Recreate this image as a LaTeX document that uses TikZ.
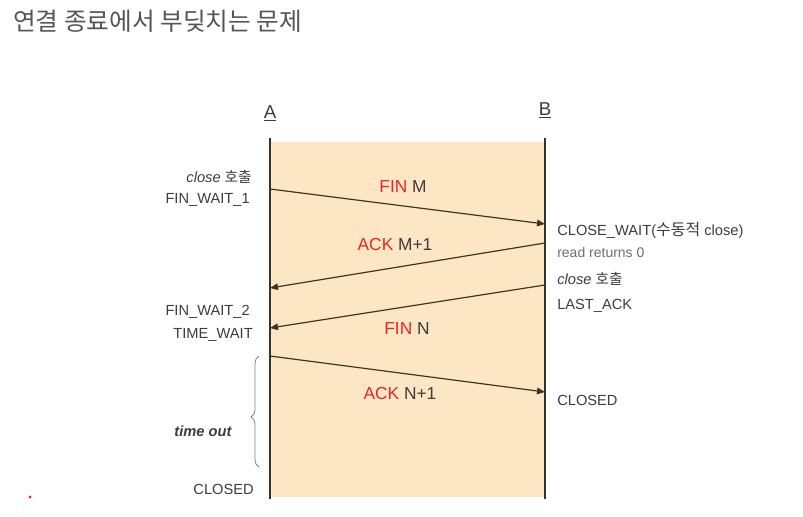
\documentclass[tikz,border=0pt]{standalone}
\usepackage{fontspec}
\setmainfont{Liberation Sans}
\newfontfamily\kr{Noto Sans CJK KR}
\usetikzlibrary{arrows.meta,decorations.pathreplacing}
\definecolor{peach}{RGB}{253,230,196}
\definecolor{txt}{RGB}{60,60,60}
\definecolor{lighttxt}{RGB}{110,110,110}
\definecolor{msgred}{RGB}{228,40,40}
\definecolor{arrowcol}{RGB}{65,52,35}
\definecolor{titlegray}{RGB}{85,85,85}
\tikzset{
  lbl/.style={text=txt, font=\fontsize{11}{13}\selectfont, inner sep=0pt},
  lleft/.style={lbl, anchor=east},
  lright/.style={lbl, anchor=west},
  msg/.style={text=txt, font=\fontsize{13}{15}\selectfont, inner sep=0pt},
  msgline/.style={draw=arrowcol, line width=0.9pt, -{Triangle[length=6pt,width=5pt]}},
  lifeline/.style={draw=black!80, line width=1.5pt},
}
\begin{document}
\begin{tikzpicture}[x=0.75pt,y=-0.75pt]
\useasboundingbox (0,0) rectangle (803,517);
% title
\node[anchor=west, inner sep=0pt, text=titlegray, font=\kr\fontsize{18.5}{22}\selectfont] (title) at (13,21) {연결 종료에서 부딪치는 문제};
% background
\fill[peach] (270,142) rectangle (545,497);
% lifelines
\coordinate (Atop) at (270,138);
\coordinate (Abot) at (270,499);
\coordinate (Btop) at (545,138);
\coordinate (Bbot) at (545,499);
\draw[lifeline] (Atop) -- (Abot);
\draw[lifeline] (Btop) -- (Bbot);
\node[text=txt, font=\fontsize{14}{16}\selectfont, inner sep=0pt] (A) at (270,113) {\underline{A}};
\node[text=txt, font=\fontsize{14}{16}\selectfont, inner sep=0pt] (B) at (545,110) {\underline{B}};
% message coordinates
\coordinate (a1) at (270,189);
\coordinate (b1) at (545,224);
\coordinate (b2) at (545,243);
\coordinate (a2) at (270,288);
\coordinate (b3) at (545,285);
\coordinate (a3) at (270,328);
\coordinate (a4) at (270,356);
\coordinate (b4) at (545,392);
\draw[msgline] (a1) -- (b1);
\draw[msgline] (b2) -- (a2);
\draw[msgline] (b3) -- (a3);
\draw[msgline] (a4) -- (b4);
% message labels
\node[msg] (m1) at (403,187) {\textcolor{msgred}{FIN} M};
\node[msg] (m2) at (395,245) {\textcolor{msgred}{ACK} M+1};
\node[msg] (m3) at (407,329) {\textcolor{msgred}{FIN} N};
\node[msg] (m4) at (400,394) {\textcolor{msgred}{ACK} N+1};
% A side labels
\node[lleft] (l1) at (252,177) {\textit{close} {\kr 호출}};
\node[lleft] (l2) at (250,200) {FIN\_WAIT\_1};
\node[lleft] (l3) at (250,312) {FIN\_WAIT\_2};
\node[lleft] (l4) at (253,335) {TIME\_WAIT};
\node[lbl, font=\bfseries\itshape\fontsize{11}{13}\selectfont] (l5) at (203,431) {time out};
\node[lleft] (l6) at (254,489) {CLOSED};
% B side labels
\node[lright] (r1) at (557,230) {CLOSE\_WAIT({\kr\fontsize{12}{13}\selectfont 수동적} close)};
\node[lright, text=lighttxt, font=\fontsize{10.5}{12}\selectfont] (r2) at (557,252) {read returns 0};
\node[lright] (r3) at (557,279) {\textit{close} {\kr 호출}};
\node[lright] (r4) at (557,306) {LAST\_ACK};
\node[lright] (r5) at (557,400) {CLOSED};
% brace
\coordinate (br1) at (259,467);
\coordinate (br2) at (259,356);
\draw[gray, line width=0.6pt, decorate, decoration={brace, amplitude=6pt, aspect=0.45}] (br1) -- (br2);
% red dot
\fill[msgred] (30,497) circle (1.6);
\end{tikzpicture}
\end{document}
